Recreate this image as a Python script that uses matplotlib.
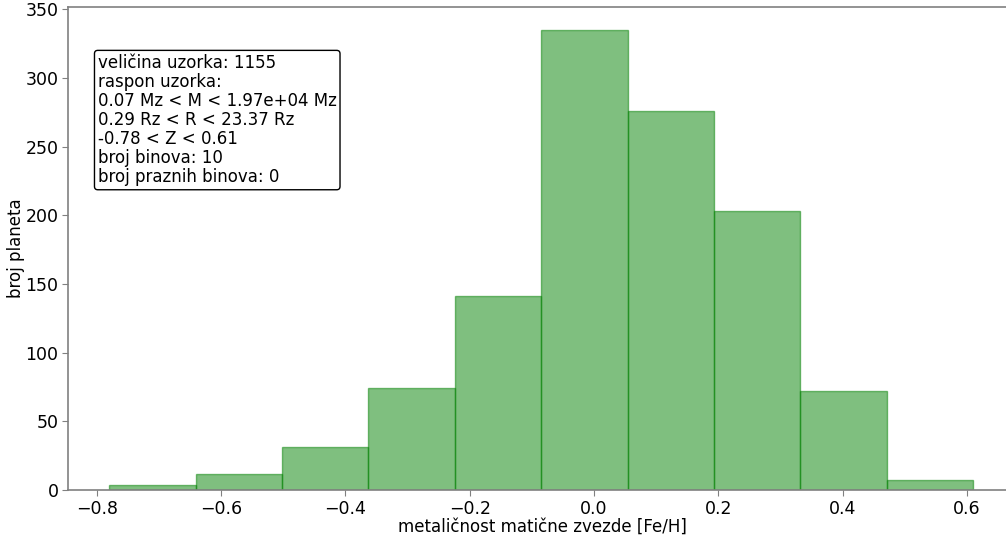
import numpy as np
import matplotlib
matplotlib.use("Agg")
import matplotlib.pyplot as plt

# Host-star metallicity histogram
z_min, z_max = -0.78, 0.61
n_bins = 10
counts = [4, 12, 31, 74, 141, 335, 276, 203, 72, 7]

sample_size = 1155
mass_range = (0.07, 1.97e4)
radius_range = (0.29, 23.37)
empty_bins = 0

edges = np.linspace(z_min, z_max, n_bins + 1)
centers = 0.5 * (edges[:-1] + edges[1:])

W, H = 1006, 537
x_lo, x_hi = -0.846, 0.68
px_per_unit = 621.4
fig = plt.figure(figsize=(W / 100, H / 100), dpi=100)
ax = fig.add_axes([68.3 / W, 47 / H, (x_hi - x_lo) * px_per_unit / W, 483.3 / H])

ax.hist(centers, bins=edges, weights=counts, color="green", alpha=0.5,
        edgecolor="green", linewidth=1)
ax.set_xlim(x_lo, x_hi)

for side in ax.spines.values():
    side.set_color("#808080")
    side.set_linewidth(1.2)
ax.tick_params(axis="both", labelsize=12.5, colors="#808080", labelcolor="black",
               length=4, pad=3)

ax.set_xlabel("metaličnost matične zvezde [Fe/H]", fontsize=12, labelpad=0)
ax.set_ylabel("broj planeta", fontsize=12, labelpad=0.5)

info = (f"veličina uzorka: {sample_size}\n"
        "raspon uzorka:\n"
        f"{mass_range[0]:.2f} Mz < M < {mass_range[1]:.2e} Mz\n"
        f"{radius_range[0]:.2f} Rz < R < {radius_range[1]:.2f} Rz\n"
        f"{z_min:.2f} < Z < {z_max:.2f}\n"
        f"broj binova: {n_bins}\n"
        f"broj praznih binova: {empty_bins}")
ax.text(29.5 / 948, 1 - 47 / 483.3, info, transform=ax.transAxes, fontsize=12,
        va="top", ha="left", linespacing=1.08,
        bbox=dict(boxstyle="round,pad=0.2", facecolor="white",
                  edgecolor="black"))

fig.savefig("out.png", dpi=100)
